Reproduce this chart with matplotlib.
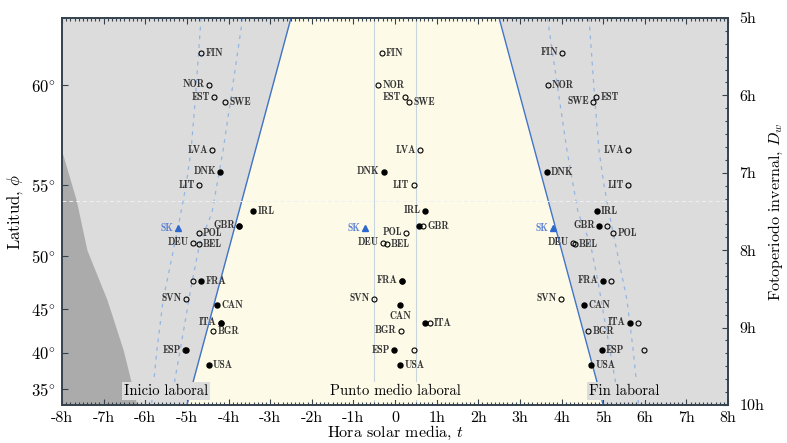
import numpy as np
import matplotlib.pyplot as plt
from matplotlib.ticker import MultipleLocator, NullLocator

plt.rcParams['font.family'] = ['cmr10', 'DejaVu Serif']
plt.rcParams['mathtext.fontset'] = 'cm'
plt.rcParams['axes.unicode_minus'] = False

# === Datos ===
paises = ['FIN', 'NOR', 'EST', 'SWE', 'LVA', 'DNK', 'LIT', 'IRL', 'GBR', 'POL',
          'DEU', 'BEL', 'FRA', 'SVN', 'CAN', 'ITA', 'BGR', 'ESP', 'USA']
latitud = [61.2, 60.0, 59.5, 59.3, 57.0, 55.8, 55.0, 53.35, 52.3, 51.8,
           51.05, 50.9, 47.8, 46.05, 45.4, 43.5, 42.6, 40.3, 38.4]

nan = np.nan
# puntos huecos (o)
inicio_o = [-4.66, -4.47, -4.35, -4.08, -4.40, nan, -4.71, nan, -3.75, -4.71,
            -4.85, -4.71, -4.85, -5.02, nan, -4.18, -4.37, -5.05, nan]
fin_o = [4.01, 3.67, 4.83, 4.76, 5.60, nan, 5.60, nan, 5.09, 5.24,
         4.27, 4.32, 5.19, 3.99, nan, 5.84, 4.64, 5.98, nan]
# puntos llenos (●)
inicio_f = [nan, nan, nan, nan, nan, -4.20, nan, -3.41, -3.75, nan,
            nan, nan, -4.66, nan, -4.28, -4.18, nan, -5.02, -4.47]
fin_f = [nan, nan, nan, nan, nan, 3.65, nan, 4.85, 4.90, nan,
         nan, nan, 5.00, nan, 4.54, 5.64, nan, 4.97, 4.71]

sk_lat = 52.15
sk_inicio = -5.21
sk_fin = 3.79

# lado de la etiqueta: l = izquierda, r = derecha, b = abajo
lado_inicio = ['r', 'l', 'l', 'r', 'l', 'l', 'l', 'r', 'l', 'r',
               'l', 'r', 'r', 'l', 'r', 'l', 'r', 'l', 'r']
lado_medio = ['r', 'r', 'l', 'r', 'l', 'l', 'l', 'l', 'r', 'l',
              'l', 'r', 'l', 'l', 'b', 'r', 'l', 'l', 'r']
lado_fin = ['l', 'r', 'r', 'l', 'l', 'r', 'l', 'r', 'l', 'r',
            'l', 'r', 'l', 'l', 'r', 'l', 'r', 'r', 'r']

# zona oscura (hora, fotoperiodo)
oscuro_h = [-8.0, -7.66, -7.40, -6.92, -6.53, -6.29, -6.20]
oscuro_dw = [6.73, 7.35, 8.00, 8.64, 9.29, 9.81, 10.0]

# curvas discontinuas (lado izquierdo, se reflejan a la derecha)
curva1_h = [-4.66, -4.80, -4.90, -5.02, -5.21, -5.41, -5.57, -5.72, -5.81, -5.85]
curva1_dw = [5.0, 6.06, 6.71, 7.16, 7.70, 8.22, 8.64, 9.29, 9.77, 10.0]
curva2_h = [-3.66, -3.89, -4.13, -4.40, -4.69, -4.88, -5.09, -5.29, -5.36]
curva2_dw = [5.0, 5.84, 6.71, 7.52, 7.91, 8.42, 9.07, 9.68, 10.0]

dw_lim = np.array([5.0, 10.0])

# === Conversión latitud <-> fotoperiodo invernal ===
DEC = np.radians(-23.44)
H0 = np.radians(-0.833)


def lat_a_dw(lat):
    phi = np.radians(np.asarray(lat, dtype=float))
    cos_h = (np.sin(H0) - np.sin(phi) * np.sin(DEC)) / (np.cos(phi) * np.cos(DEC))
    return np.degrees(np.arccos(np.clip(cos_h, -1, 1))) / 7.5


def dw_a_lat(dw):
    c = np.cos(np.radians(np.asarray(dw, dtype=float) * 7.5)) * np.cos(DEC)
    r = np.hypot(c, np.sin(DEC))
    return np.degrees(np.arctan2(np.sin(DEC), c) + np.arccos(np.clip(np.sin(H0) / r, -1, 1)))


# === Figura ===
fig = plt.figure(figsize=(7.87, 4.43), dpi=100)
ax = fig.add_axes([0.0788, 0.0858, 0.8463, 0.8736])
ax.set_xlim(-8, 8)
ax.set_ylim(10, 5)
ax.set_facecolor('#dcdcdc')

ax.fill_betweenx(dw_lim, -dw_lim / 2, dw_lim / 2, color='#fdfbe8', lw=0, zorder=1)
ax.fill_betweenx(oscuro_dw, -8, oscuro_h, color='#ababab', lw=0, zorder=1)
ax.axvline(-0.5, color='#c8d4dc', lw=0.8, zorder=1.5)
ax.axvline(0.5, color='#c8d4dc', lw=0.8, zorder=1.5)
ax.plot(-dw_lim / 2, dw_lim, color='#4274c6', lw=1.0, zorder=2)
ax.plot(dw_lim / 2, dw_lim, color='#4274c6', lw=1.0, zorder=2)
for ch, cdw in [(curva1_h, curva1_dw), (curva2_h, curva2_dw)]:
    ch = np.array(ch)
    ax.plot(ch, cdw, ls=(0, (3, 4)), color='#93b5e2', lw=0.9, zorder=2)
    ax.plot(-ch, cdw, ls=(0, (3, 4)), color='#93b5e2', lw=0.9, zorder=2)

caja = dict(edgecolor='none', pad=1.5)
ax.text(-5.5, 9.82, 'Inicio laboral', ha='center', va='center', fontsize=10.5,
        bbox=dict(facecolor='#dcdcdc', **caja), zorder=3)
ax.text(0, 9.82, 'Punto medio laboral', ha='center', va='center', fontsize=10.5,
        bbox=dict(facecolor='#fdfbe8', **caja), zorder=3)
ax.text(5.5, 9.82, 'Fin laboral', ha='center', va='center', fontsize=10.5,
        bbox=dict(facecolor='#dcdcdc', **caja), zorder=3)

# ejes: x abajo/arriba, fotoperiodo a la derecha
col_eje = '#35414d'
ax.set_xticks(range(-8, 9))
ax.set_xticklabels([f'{h}h' if h != 0 else '0' for h in range(-8, 9)], fontsize=11.5)
ax.xaxis.set_minor_locator(MultipleLocator(0.1))
ax.set_yticks(range(5, 11))
ax.set_yticklabels([f'{h}h' for h in range(5, 11)], fontsize=11.5)
ax.yaxis.set_minor_locator(MultipleLocator(1 / 6))
ax.set_xlabel('Hora solar media, $t$', fontsize=11.5, labelpad=-0.5)

ax_lat = ax.twinx()
ax_lat.set_yscale('function', functions=(lambda v: -lat_a_dw(v), lambda t: dw_a_lat(-t)))
ax_lat.set_ylim(dw_a_lat(10), dw_a_lat(5))
ax_lat.yaxis.tick_left()
ax_lat.yaxis.set_label_position('left')
ax_lat.set_yticks([35, 40, 45, 50, 55, 60])
ax_lat.set_yticklabels([rf'${g}\!^\circ$' for g in [35, 40, 45, 50, 55, 60]], fontsize=12)
ax_lat.yaxis.set_minor_locator(NullLocator())
ax_lat.set_ylabel(r'Latitud, $\phi$', fontsize=12, labelpad=4)

ax.yaxis.tick_right()
ax.yaxis.set_label_position('right')
ax.set_ylabel('Fotoperiodo invernal, $D_w$', fontsize=11.5, labelpad=2)

ax.tick_params(which='both', direction='in', top=True, bottom=True, left=False,
               right=True, labelleft=False, labelright=True, color=col_eje, width=0.8)
ax.tick_params(which='major', length=4)
ax.tick_params(which='minor', length=2)
ax.tick_params(axis='x', pad=4.5)
ax.tick_params(axis='y', pad=8)
ax_lat.tick_params(axis='y', direction='in', left=True, right=False, labelleft=True,
                   labelright=False, length=4, width=0.8, color=col_eje, pad=5)
for a in (ax, ax_lat):
    for s in a.spines.values():
        s.set_color(col_eje)
        s.set_linewidth(1.2)

ax_lat.axhline(54.0, color='#eef1f4', lw=0.7, ls=(0, (4, 3)), zorder=1)

# === Puntos y etiquetas ===
grupos = []
io, fo = np.array(inicio_o), np.array(fin_o)
i_f, f_f = np.array(inicio_f), np.array(fin_f)
grupos.append((i_f, io, sk_inicio, lado_inicio))
grupos.append(((i_f + f_f) / 2, (io + fo) / 2, (sk_inicio + sk_fin) / 2, lado_medio))
grupos.append((f_f, fo, sk_fin, lado_fin))

estilo_txt = dict(textcoords='offset points', fontsize=7, family=['cmb10', 'DejaVu Serif'],
                  color='#333333', zorder=5)

for xs_f, xs_o, x_sk, lados in grupos:
    ax_lat.plot(xs_o, latitud, 'o', mfc='none', mec='black', ms=3.6, mew=0.8, zorder=4)
    ax_lat.plot(xs_f, latitud, 'o', color='black', ms=3.6, zorder=4)
    ax_lat.plot(x_sk, sk_lat, '^', color='#2c68cf', ms=4, zorder=4)
    ax_lat.annotate('SK', (x_sk, sk_lat), xytext=(-3.5, 0), ha='right', va='center',
                    **{**estilo_txt, 'color': '#5c82d2'})
    for i, p in enumerate(paises):
        base = xs_f[i] if not np.isnan(xs_f[i]) else xs_o[i]
        cerca = [v for v in (xs_f[i], xs_o[i]) if not np.isnan(v) and abs(v - base) < 0.3]
        if lados[i] == 'r':
            x, off, ha, va = max(cerca), (3, 0), 'left', 'center'
        elif lados[i] == 'l':
            x, off, ha, va = min(cerca), (-3, 0.5), 'right', 'center'
        else:
            x, off, ha, va = base, (0, -4), 'center', 'top'
        ax_lat.annotate(p, (x, latitud[i]), xytext=off, ha=ha, va=va, **estilo_txt)

plt.savefig('out.png', dpi=100)
